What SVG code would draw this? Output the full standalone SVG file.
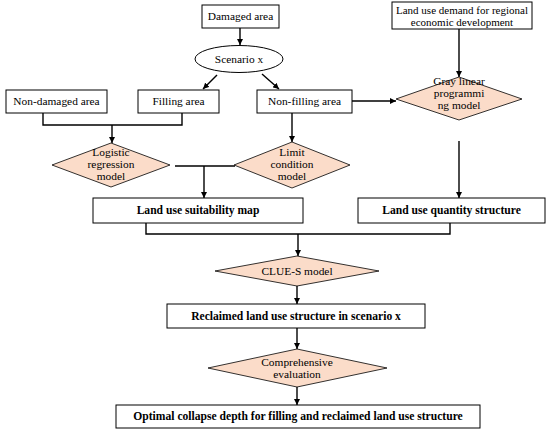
<svg xmlns="http://www.w3.org/2000/svg" width="550" height="434" viewBox="0 0 550 434">
<defs>
<marker id="ah" viewBox="0 0 10 10" refX="10" refY="5" markerWidth="6" markerHeight="6" markerUnits="userSpaceOnUse" orient="auto">
<path d="M0,0 L10,5 L0,10 z" fill="#000"/>
</marker>
<style>
.box{fill:#fff;stroke:#000;stroke-width:1}
.dia{fill:#FBDCC9;stroke:#000;stroke-width:0.8}
.t{font-family:"Liberation Serif","DejaVu Serif",serif;font-size:11.4px;fill:#000;text-anchor:middle}
.s{font-size:11px}
.b{font-weight:bold;font-size:11.6px}
.c{fill:none;stroke:#000;stroke-width:1.4}
.a{fill:none;stroke:#000;stroke-width:1.4;marker-end:url(#ah)}
</style>
</defs>
<rect width="550" height="434" fill="#fff"/>
<g id="connectors">
<line class="a" x1="240" y1="28" x2="240" y2="45"/>
<line class="a" x1="217" y1="75" x2="203" y2="89"/>
<line class="a" x1="262" y1="74" x2="279" y2="89"/>
<line class="a" x1="459" y1="29" x2="459" y2="77"/>
<line class="a" x1="352" y1="101" x2="396" y2="101"/>
<polyline class="c" points="43,113 43,125 182,125 182,113"/>
<line class="a" x1="112" y1="125" x2="112" y2="143"/>
<line class="a" x1="292" y1="113" x2="292" y2="142"/>
<line class="c" x1="175" y1="166" x2="235" y2="166"/>
<line class="a" x1="204" y1="166" x2="204" y2="198"/>
<line class="a" x1="459" y1="141" x2="459" y2="198"/>
<polyline class="c" points="146,223 146,234 450,234 450,223"/>
<line class="a" x1="298" y1="234" x2="298" y2="256"/>
<line class="a" x1="297" y1="286" x2="297" y2="304"/>
<line class="a" x1="297" y1="328" x2="297" y2="349"/>
<line class="a" x1="297" y1="387" x2="297" y2="405"/>
</g>
<g id="damaged"><rect class="box" x="202" y="5" width="77" height="23"/><text class="t" x="240.5" y="20">Damaged area</text></g>
<g id="scenario"><ellipse class="box" cx="239" cy="59" rx="44" ry="13.5"/><text class="t" x="239" y="63">Scenario x</text></g>
<g id="demand"><rect class="box" x="392" y="2" width="140" height="27"/><text class="t s" x="462" y="14">Land use demand for regional</text><text class="t s" x="462" y="26">economic development</text></g>
<g id="nondamaged"><rect class="box" x="6" y="90" width="101" height="23"/><text class="t" x="56.5" y="105">Non-damaged area</text></g>
<g id="filling"><rect class="box" x="138" y="90" width="81" height="23"/><text class="t" x="178.5" y="105">Filling area</text></g>
<g id="nonfilling"><rect class="box" x="257" y="90" width="95" height="23"/><text class="t" x="304.5" y="105">Non-filling area</text></g>
<g id="gray"><polygon class="dia" points="459,77 522,99 459,120 396,99"/><text class="t" x="459" y="85">Gray linear</text><text class="t" x="459" y="97">programmi</text><text class="t" x="459" y="109">ng model</text></g>
<g id="logistic"><polygon class="dia" points="111,143 170,165 111,187 52,165"/><text class="t" x="111" y="156">Logistic</text><text class="t" x="111" y="168">regression</text><text class="t" x="111" y="180">model</text></g>
<g id="limit"><polygon class="dia" points="292,142 350,165 292,188 234,165"/><text class="t" x="292" y="156">Limit</text><text class="t" x="292" y="168">condition</text><text class="t" x="292" y="180">model</text></g>
<g id="suitability"><rect class="box" x="93" y="198" width="210" height="25"/><text class="t b" x="198" y="214">Land use suitability map</text></g>
<g id="quantity"><rect class="box" x="358" y="198" width="187" height="25"/><text class="t b" x="451.5" y="214">Land use quantity structure</text></g>
<g id="clues"><polygon class="dia" points="297,256 379,271 297,286 215,271"/><text class="t" x="297" y="275">CLUE-S model</text></g>
<g id="reclaimed"><rect class="box" x="167" y="304" width="258" height="24"/><text class="t b" x="296" y="320">Reclaimed land use structure in scenario x</text></g>
<g id="comprehensive"><polygon class="dia" points="297,349 387,368 297,387 208,368"/><text class="t" x="297" y="366">Comprehensive</text><text class="t" x="297" y="378">evaluation</text></g>
<g id="optimal"><rect class="box" x="116" y="405" width="364" height="23"/><text class="t b" x="298" y="420">Optimal collapse depth for filling and reclaimed land use structure</text></g>
</svg>
